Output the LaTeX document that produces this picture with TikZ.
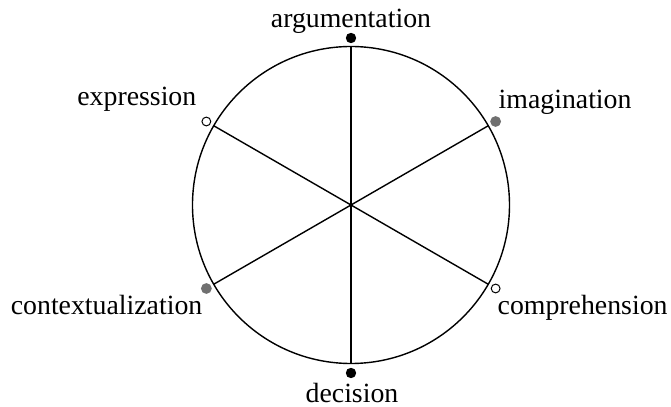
\documentclass[tikz,border=0pt]{standalone}
\usepackage{fontspec}
\setmainfont{Liberation Serif}
\usepackage{xcolor}
\usepackage{tikz}
\usetikzlibrary{positioning}
\definecolor{dotgray}{HTML}{707070}
\tikzset{
  lbl/.style={font=\fontsize{13.9}{16}\selectfont,inner sep=0pt},
  fulldot/.style={circle,fill=black,draw=none,inner sep=0pt,minimum size=5.2pt},
  greydot/.style={circle,fill=dotgray,draw=none,inner sep=0pt,minimum size=5.4pt},
  opendot/.style={circle,fill=white,draw=black,line width=0.5pt,inner sep=0pt,minimum size=4.4pt}
}

\begin{document}
\begin{tikzpicture}[x=0.5pt,y=0.5pt,line width=0.7pt]
\useasboundingbox (-351,-202) rectangle (320,205);
\draw (0,0) circle (158.5);
\coordinate (argR) at (90:158.5);
\coordinate (imgR) at (30:158.5);
\coordinate (comR) at (-30:158.5);
\coordinate (decR) at (-90:158.5);
\coordinate (ctxR) at (210:158.5);
\coordinate (expR) at (150:158.5);
\draw (argR) -- (decR);
\draw (imgR) -- (ctxR);
\draw (expR) -- (comR);
\node[fulldot] (argD) at (90:167) {};
\node[fulldot] (decD) at (-90:168) {};
\node[greydot] (imgD) at (30:167) {};
\node[greydot] (ctxD) at (210:167) {};
\node[opendot] (expD) at (150:167) {};
\node[opendot] (comD) at (-30:167) {};
\node[lbl,anchor=base] (argT) at (0,177) {argumentation};
\node[lbl,anchor=base] (decT) at (1,-198) {decision};
\node[lbl,anchor=base east] (expT) at (-154,99) {expression};
\node[lbl,anchor=base west] (imgT) at (147,96) {imagination};
\node[lbl,anchor=base east] (ctxT) at (-148,-110) {contextualization};
\node[lbl,anchor=base west] (comT) at (146,-110) {comprehension};
\end{tikzpicture}
\end{document}
